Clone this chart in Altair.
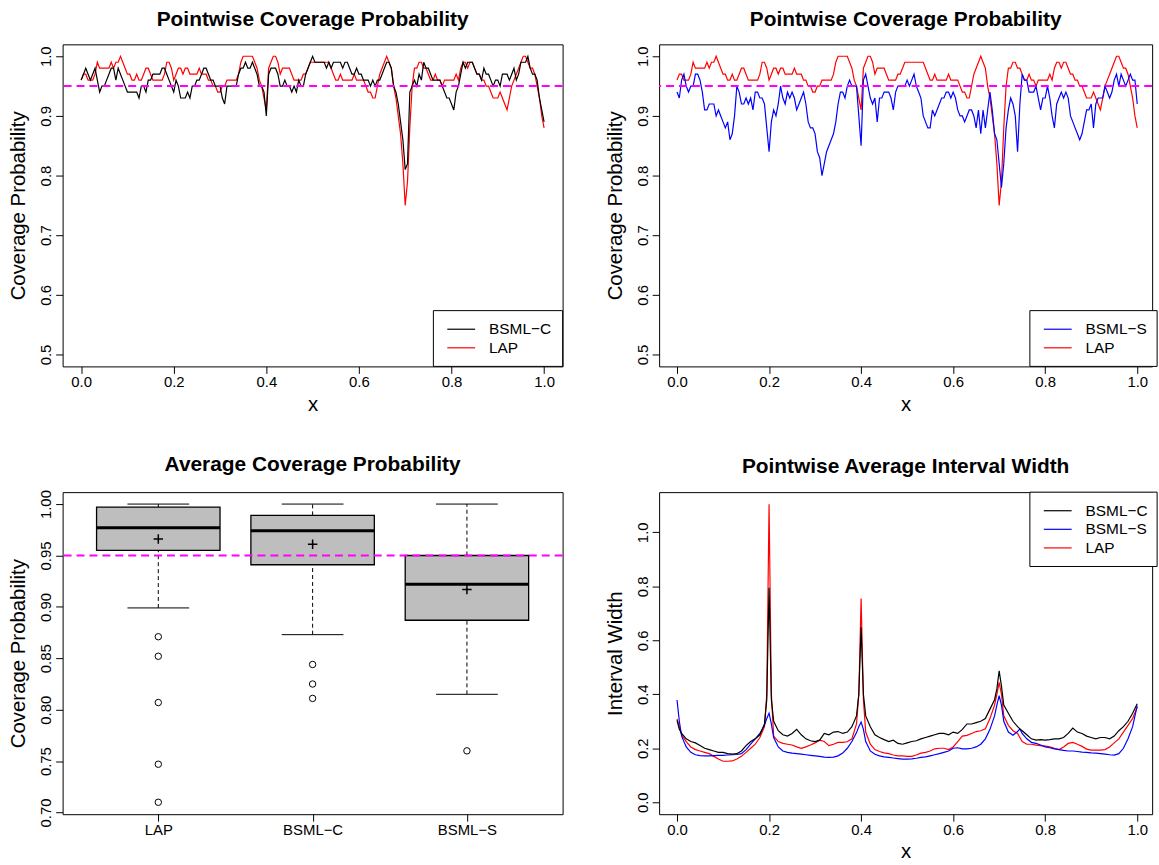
import json
import altair as alt
import pandas as pd

FONT = "Liberation Sans"

# ---------------- data ----------------
# pointwise coverage (percent), x grid 0..1 step 0.005
cov_x = [i / 200 for i in range(201)]
cov_bsml_c = [
    96, 97, 98, 97, 96, 97, 98, 96, 94, 95,
    95, 96, 97, 98, 98, 96, 98, 97, 96, 95,
    94, 94, 94, 94, 94, 93, 95, 95, 94, 96,
    96, 97, 97, 97, 97, 98, 98, 97, 96, 95,
    94, 96, 95, 93, 93, 93, 94, 93, 95, 95,
    96, 96, 97, 98, 98, 97, 96, 96, 95, 95,
    95, 93, 92, 95, 95, 95, 95, 95, 97, 98,
    98, 99, 98, 98, 99, 98, 97, 95, 95, 94,
    90, 97, 98, 98, 98, 97, 95, 95, 96, 95,
    95, 94, 95, 94, 96, 95, 95, 97, 98, 99,
    100, 99, 99, 99, 99, 99, 98, 99, 98, 99,
    99, 99, 99, 98, 99, 99, 98, 97, 97, 98,
    97, 97, 96, 96, 96, 95, 96, 95, 96, 96,
    97, 98, 99, 99, 98, 95, 94, 92, 89, 86,
    81, 82, 94, 95, 96, 95, 97, 96, 99, 98,
    98, 97, 96, 96, 96, 96, 95, 94, 93, 93,
    92, 91, 94, 95, 97, 99, 98, 99, 99, 99,
    98, 97, 97, 96, 98, 97, 97, 96, 95, 96,
    96, 95, 97, 97, 97, 96, 97, 98, 96, 97,
    99, 99, 99, 100, 98, 97, 97, 96, 93, 91,
    89]
cov_lap = [
    96, 97, 97, 96, 96, 96, 97, 99, 98, 98,
    98, 98, 98, 99, 98, 99, 99, 100, 99, 98,
    97, 97, 96, 96, 97, 96, 96, 97, 98, 98,
    97, 96, 96, 96, 96, 96, 97, 99, 99, 98,
    96, 97, 98, 98, 97, 98, 98, 97, 97, 97,
    97, 98, 97, 97, 97, 96, 96, 95, 95, 94,
    94, 95, 95, 96, 96, 96, 96, 96, 97, 99,
    100, 100, 100, 100, 100, 99, 98, 96, 95, 93,
    91, 98, 99, 100, 100, 99, 97, 98, 98, 98,
    98, 97, 96, 96, 96, 96, 97, 97, 98, 99,
    99, 99, 99, 99, 99, 99, 99, 99, 98, 97,
    96, 96, 97, 96, 96, 96, 96, 96, 97, 96,
    96, 96, 96, 95, 94, 94, 93, 93, 95, 97,
    98, 99, 100, 99, 98, 95, 93, 90, 87, 82,
    75, 79, 88, 95, 98, 98, 99, 99, 98, 98,
    97, 96, 96, 97, 96, 96, 95, 96, 96, 96,
    96, 96, 97, 96, 98, 99, 99, 98, 99, 99,
    98, 97, 97, 96, 96, 95, 95, 94, 93, 93,
    93, 94, 93, 92, 91, 93, 95, 96, 97, 98,
    99, 100, 100, 99, 98, 98, 97, 95, 93, 90,
    88]
cov_bsml_s = [
    94, 93, 96, 97, 95, 94, 95, 95, 97, 97,
    96, 94, 91, 91, 92, 92, 92, 90, 91, 90,
    89, 88, 89, 86, 87, 90, 95, 94, 92, 92,
    93, 92, 93, 91, 94, 94, 93, 93, 92, 88,
    84, 89, 91, 90, 92, 95, 93, 92, 94, 93,
    94, 93, 91, 92, 93, 94, 92, 89, 88, 88,
    87, 84, 83, 80, 82, 84, 85, 86, 87, 89,
    92, 94, 94, 93, 95, 96, 95, 95, 95, 90,
    85, 96, 97, 95, 93, 92, 93, 89, 93, 93,
    94, 94, 94, 93, 91, 94, 95, 95, 95, 95,
    96, 95, 96, 97, 95, 94, 93, 90, 89, 88,
    88, 91, 90, 91, 92, 93, 93, 94, 94, 93,
    94, 93, 91, 90, 90, 89, 90, 91, 91, 90,
    88, 91, 87, 91, 88, 91, 94, 91, 87, 86,
    82, 78, 82, 88, 91, 93, 92, 90, 84, 92,
    97, 96, 96, 94, 94, 94, 95, 93, 91, 93,
    93, 95, 93, 90, 88, 92, 93, 94, 93, 94,
    93, 90, 89, 88, 87, 86, 87, 89, 91, 91,
    92, 88, 92, 93, 93, 93, 95, 94, 93, 94,
    96, 97, 95, 97, 96, 95, 96, 97, 96, 96,
    92]

# pointwise average interval width
width_x = [
    0.0, 0.005, 0.01,
    0.02, 0.03, 0.04, 0.05, 0.06, 0.07, 0.08, 0.09, 0.10, 0.11, 0.12, 0.13, 0.14, 0.15, 0.16, 0.17, 0.18, 0.19,
    0.195, 0.20, 0.205,
    0.21, 0.22, 0.23, 0.24, 0.25, 0.26, 0.27, 0.28, 0.29, 0.30, 0.31, 0.32, 0.33, 0.34, 0.35, 0.36, 0.37, 0.38, 0.39,
    0.395, 0.40, 0.405,
    0.41, 0.42, 0.43, 0.44, 0.45, 0.46, 0.47, 0.48, 0.49, 0.50, 0.51, 0.52, 0.53, 0.54, 0.55, 0.56, 0.57, 0.58, 0.59,
    0.60, 0.61, 0.62, 0.63, 0.64, 0.65, 0.66, 0.67, 0.68, 0.69,
    0.695, 0.70, 0.705,
    0.71, 0.72, 0.73, 0.74,
    0.745,
    0.75, 0.76, 0.77, 0.78, 0.79, 0.80, 0.81, 0.82, 0.83, 0.84, 0.85, 0.86, 0.87, 0.88, 0.89,
    0.90, 0.91, 0.92, 0.93, 0.94, 0.95, 0.96, 0.97, 0.98, 0.99, 1.00]
width_bsml_c = [
    0.303, 0.27, 0.255,
    0.235, 0.225, 0.22, 0.21, 0.20, 0.195, 0.19, 0.185, 0.185, 0.18, 0.178, 0.18, 0.19, 0.21, 0.225, 0.235, 0.25, 0.29,
    0.38, 0.795, 0.38,
    0.30, 0.265, 0.25, 0.245, 0.255, 0.27, 0.25, 0.235, 0.228, 0.225, 0.23, 0.255, 0.25, 0.26, 0.262, 0.255, 0.26, 0.28, 0.32,
    0.40, 0.648, 0.40,
    0.32, 0.28, 0.25, 0.24, 0.232, 0.225, 0.23, 0.218, 0.215, 0.22, 0.225, 0.228, 0.235, 0.24, 0.245, 0.25, 0.255, 0.255, 0.25,
    0.26, 0.255, 0.27, 0.29, 0.29, 0.295, 0.30, 0.31, 0.345, 0.38,
    0.42, 0.487, 0.43,
    0.36, 0.33, 0.30, 0.28,
    0.272,
    0.265, 0.25, 0.235, 0.23, 0.232, 0.23, 0.232, 0.235, 0.235, 0.24, 0.255, 0.275, 0.26, 0.255, 0.245,
    0.24, 0.235, 0.24, 0.24, 0.235, 0.245, 0.265, 0.28, 0.30, 0.33, 0.365]
width_lap = [
    0.309, 0.28, 0.25,
    0.225, 0.205, 0.195, 0.19, 0.185, 0.18, 0.17, 0.16, 0.152, 0.152, 0.153, 0.16, 0.17, 0.185, 0.20, 0.215, 0.24, 0.28,
    0.40, 1.104, 0.40,
    0.245, 0.225, 0.218, 0.215, 0.212, 0.205, 0.20, 0.205, 0.212, 0.22, 0.23, 0.225, 0.21, 0.215, 0.222, 0.222, 0.224, 0.235, 0.29,
    0.40, 0.755, 0.38,
    0.26, 0.215, 0.195, 0.188, 0.183, 0.18, 0.175, 0.172, 0.172, 0.17, 0.17, 0.175, 0.182, 0.185, 0.19, 0.198, 0.20, 0.20, 0.195,
    0.205, 0.225, 0.245, 0.248, 0.255, 0.262, 0.265, 0.272, 0.31, 0.36,
    0.40, 0.444, 0.40,
    0.32, 0.285, 0.265, 0.255,
    0.24,
    0.225, 0.215, 0.215, 0.212, 0.21, 0.208, 0.205, 0.20, 0.195, 0.205, 0.218, 0.222, 0.215, 0.207, 0.197,
    0.193, 0.193, 0.193, 0.195, 0.205, 0.22, 0.235, 0.26, 0.285, 0.31, 0.352]
width_bsml_s = [
    0.379, 0.30, 0.245,
    0.205, 0.185, 0.176, 0.173, 0.172, 0.172, 0.173, 0.174, 0.174, 0.175, 0.176, 0.177, 0.18, 0.195, 0.215, 0.235, 0.255, 0.285,
    0.31, 0.33, 0.29,
    0.24, 0.205, 0.19, 0.185, 0.182, 0.18, 0.178, 0.176, 0.174, 0.172, 0.17, 0.167, 0.166, 0.167, 0.172, 0.182, 0.20, 0.225, 0.258,
    0.28, 0.297, 0.27,
    0.225, 0.19, 0.178, 0.172, 0.168, 0.166, 0.164, 0.162, 0.16, 0.16, 0.161, 0.163, 0.166, 0.168, 0.172, 0.176, 0.18, 0.185, 0.19,
    0.20, 0.202, 0.198, 0.198, 0.20, 0.205, 0.215, 0.235, 0.27, 0.32,
    0.36, 0.395, 0.36,
    0.30, 0.26, 0.248, 0.262,
    0.272,
    0.255, 0.235, 0.222, 0.218, 0.212, 0.205, 0.202, 0.198, 0.195, 0.192, 0.19, 0.19, 0.188, 0.186, 0.185,
    0.183, 0.182, 0.18, 0.178, 0.176, 0.175, 0.18, 0.20, 0.235, 0.28, 0.358]

# average coverage boxplot summaries
box_methods = ["LAP", "BSML\u2212C", "BSML\u2212S"]
box_whisker_lo = [0.899, 0.873, 0.815]
box_q1 = [0.955, 0.941, 0.887]
box_median = [0.977, 0.974, 0.922]
box_q3 = [0.997, 0.989, 0.950]
box_whisker_hi = [1.000, 1.000, 1.000]
box_mean = [0.966, 0.961, 0.917]
outlier_method = ["LAP"] * 5 + ["BSML\u2212C"] * 3 + ["BSML\u2212S"]
outlier_value = [0.871, 0.852, 0.807, 0.747, 0.710, 0.844, 0.825, 0.811, 0.760]

TARGET = 0.95

assert len(cov_bsml_c) == len(cov_lap) == len(cov_bsml_s) == len(cov_x)
assert len(width_bsml_c) == len(width_lap) == len(width_bsml_s) == len(width_x)

# ---------------- layout constants ----------------
W_L, W_R, H = 503, 496, 324
LEG_STEP = 18.7
LEG_LEFT = 373

cov_df = pd.DataFrame({
    "x": cov_x,
    "bsml_c": [v / 100 for v in cov_bsml_c],
    "lap": [v / 100 for v in cov_lap],
    "bsml_s": [v / 100 for v in cov_bsml_s],
})
wid_df = pd.DataFrame({"x": width_x, "bsml_c": width_bsml_c,
                       "lap": width_lap, "bsml_s": width_bsml_s})
target_df = pd.DataFrame({"y": [TARGET]})

XTICKS = [0.0, 0.2, 0.4, 0.6, 0.8, 1.0]


def title(text):
    return alt.TitleParams(text=text, font=FONT, fontSize=21, fontWeight="bold",
                           color="black", anchor="middle", offset=-2.5,
                           baseline="alphabetic")


def legend(labels, colors, plot_w, at_bottom):
    n = len(labels)
    box_h = (n + 1) * LEG_STEP
    top = H - box_h if at_bottom else 0
    left = LEG_LEFT
    one = pd.DataFrame({"k": [0]})
    layers = [alt.Chart(one).mark_rect(fill="white", stroke="black", strokeWidth=1).encode(
        x=alt.value(left), x2=alt.value(plot_w + (0 if plot_w == W_L else 5)),
        y=alt.value(top), y2=alt.value(top + box_h))]
    for i, (lab, col) in enumerate(zip(labels, colors)):
        yy = top + (i + 1) * LEG_STEP
        layers.append(alt.Chart(one).mark_rule(color=col, strokeWidth=1.2).encode(
            x=alt.value(left + 14), x2=alt.value(left + 42), y=alt.value(yy)))
        layers.append(alt.Chart(one).mark_text(align="left", baseline="middle", font=FONT,
                                               fontSize=15.5, color="black").encode(
            x=alt.value(left + 56), y=alt.value(yy), text=alt.value(lab)))
    return layers


def line_panel(df, series, xdom, ydom, ytitle, yticks, yfmt, ttl, plot_w, leg, leg_bottom, target):
    xs = alt.Scale(domain=xdom, nice=False, zero=False)
    ys = alt.Scale(domain=ydom, nice=False, zero=False)
    xa = alt.Axis(values=XTICKS, format=".1f", title="x")
    ya = alt.Axis(values=yticks, format=yfmt, title=ytitle)
    layers = []
    for field, color in series:
        layers.append(alt.Chart(df).mark_line(color=color, strokeWidth=1.2, clip=True).encode(
            x=alt.X("x:Q", scale=xs, axis=xa), y=alt.Y(f"{field}:Q", scale=ys, axis=ya)))
    if target:
        layers.append(alt.Chart(target_df).mark_rule(color="#FF00FF", strokeWidth=2,
                                                     strokeDash=[8, 5]).encode(
            y=alt.Y("y:Q", scale=ys, axis=ya)))
    layers += legend(leg[0], leg[1], plot_w, leg_bottom)
    return alt.layer(*layers).properties(width=plot_w, height=H, title=title(ttl))


p1 = line_panel(cov_df, [("lap", "#FF0000"), ("bsml_c", "#000000")],
                [-0.04, 1.04], [0.48, 1.02], "Coverage Probability",
                [0.5, 0.6, 0.7, 0.8, 0.9, 1.0], ".1f", "Pointwise Coverage Probability",
                W_L, (["BSML\u2212C", "LAP"], ["#000000", "#FF0000"]), True, True)

p2 = line_panel(cov_df, [("lap", "#FF0000"), ("bsml_s", "#0000FF")],
                [-0.0389, 1.0324], [0.48, 1.02], "Coverage Probability",
                [0.5, 0.6, 0.7, 0.8, 0.9, 1.0], ".1f", "Pointwise Coverage Probability",
                W_R, (["BSML\u2212S", "LAP"], ["#0000FF", "#FF0000"]), True, True)

p4 = line_panel(wid_df, [("lap", "#FF0000"), ("bsml_s", "#0000FF"), ("bsml_c", "#000000")],
                [-0.0389, 1.0324], [-0.0442, 1.1488], "Interval Width",
                [0.0, 0.2, 0.4, 0.6, 0.8, 1.0], ".1f", "Pointwise Average Interval Width",
                W_R, (["BSML\u2212C", "BSML\u2212S", "LAP"], ["#000000", "#0000FF", "#FF0000"]),
                False, False)

# ---- boxplot panel ----
box_df = pd.DataFrame({
    "method": box_methods,
    "pos": [i + 1 for i in range(len(box_methods))],
    "lo": box_whisker_lo, "q1": box_q1, "med": box_median,
    "q3": box_q3, "hi": box_whisker_hi, "mean": box_mean,
})
out_df = pd.DataFrame({"method": outlier_method, "value": outlier_value})
out_df["pos"] = [box_methods.index(m) + 1 for m in outlier_method]

bxs = alt.Scale(domain=[0.38, 3.62], nice=False, zero=False)
bys = alt.Scale(domain=[0.6984, 1.0116], nice=False, zero=False)
label_expr = json.dumps(box_methods, ensure_ascii=False) + "[datum.value - 1]"
bxa = alt.Axis(values=[1, 2, 3], labelExpr=label_expr, title=None)
bya = alt.Axis(values=[0.70, 0.75, 0.80, 0.85, 0.90, 0.95, 1.00], format=".2f",
               title="Coverage Probability")

bbase = alt.Chart(box_df).transform_calculate(
    xl="datum.pos - 0.4", xr="datum.pos + 0.4", cl="datum.pos - 0.2", cr="datum.pos + 0.2")

b_wu = bbase.mark_rule(color="black", strokeWidth=1, strokeDash=[4, 3]).encode(
    x=alt.X("pos:Q", scale=bxs, axis=bxa), y=alt.Y("q3:Q", scale=bys, axis=bya), y2="hi:Q")
b_wl = bbase.mark_rule(color="black", strokeWidth=1, strokeDash=[4, 3]).encode(
    x=alt.X("pos:Q", scale=bxs, axis=bxa), y=alt.Y("lo:Q", scale=bys, axis=bya), y2="q1:Q")
b_cu = bbase.mark_rule(color="black", strokeWidth=1).encode(
    x=alt.X("cl:Q", scale=bxs, axis=bxa), x2="cr:Q", y=alt.Y("hi:Q", scale=bys, axis=bya))
b_cl = bbase.mark_rule(color="black", strokeWidth=1).encode(
    x=alt.X("cl:Q", scale=bxs, axis=bxa), x2="cr:Q", y=alt.Y("lo:Q", scale=bys, axis=bya))
b_box = bbase.mark_rect(fill="#BEBEBE", stroke="black", strokeWidth=1.3).encode(
    x=alt.X("xl:Q", scale=bxs, axis=bxa), x2="xr:Q", y=alt.Y("q1:Q", scale=bys, axis=bya), y2="q3:Q")
b_med = bbase.mark_rule(color="black", strokeWidth=3).encode(
    x=alt.X("xl:Q", scale=bxs, axis=bxa), x2="xr:Q", y=alt.Y("med:Q", scale=bys, axis=bya))
b_mean = bbase.mark_point(shape="M-1,0L1,0M0,-1L0,1", size=90, color="black",
                          strokeWidth=1.5, opacity=1).encode(
    x=alt.X("pos:Q", scale=bxs, axis=bxa), y=alt.Y("mean:Q", scale=bys, axis=bya))
b_out = alt.Chart(out_df).mark_point(shape="circle", size=42, filled=False, color="black",
                                     strokeWidth=1, opacity=1).encode(
    x=alt.X("pos:Q", scale=bxs, axis=bxa), y=alt.Y("value:Q", scale=bys, axis=bya))
b_tgt = alt.Chart(target_df).mark_rule(color="#FF00FF", strokeWidth=2, strokeDash=[8, 5]).encode(
    y=alt.Y("y:Q", scale=bys, axis=bya))

p3 = alt.layer(b_wu, b_wl, b_cu, b_cl, b_box, b_med, b_mean, b_out, b_tgt).properties(
    width=W_L, height=H, title=title("Average Coverage Probability"))

chart = alt.concat(
    p1, p2, p3, p4, columns=2,
    spacing=alt.RowColnumber(row=126.5, column=97.1), bounds="flush",
).properties(
    padding={"left": 8, "top": 6, "right": 0, "bottom": 0},
    background="white",
).configure_view(
    stroke="black", strokeWidth=1
).configure_axis(
    domain=False, grid=False, tickSize=7, tickColor="black", tickWidth=1,
    labelFont=FONT, labelFontSize=15, labelColor="black",
    titleFont=FONT, titleFontSize=20.5, titleFontWeight="normal", titleColor="black",
).configure_axisX(
    labelPadding=1, minExtent=23, maxExtent=23, titlePadding=5, titleBaseline="top",
).configure_axisY(
    labelAngle=270, labelAlign="center", labelBaseline="alphabetic", labelPadding=5,
    minExtent=26, maxExtent=26, titlePadding=12, titleBaseline="alphabetic",
)

chart.save("out.html", embed_options={"renderer": "svg", "actions": False})
